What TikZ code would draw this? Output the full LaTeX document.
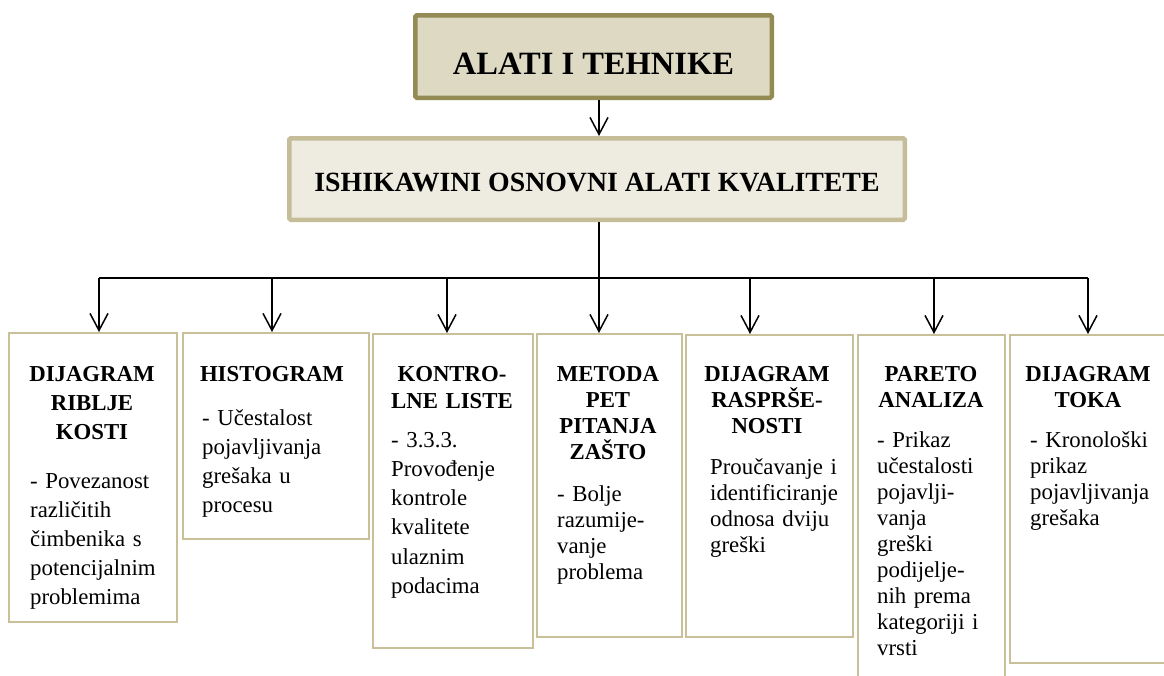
\documentclass[tikz,border=0pt]{standalone}
\usepackage{fontspec}
\setmainfont{Liberation Serif}
\usetikzlibrary{arrows.meta,calc}
\definecolor{topfill}{HTML}{DDD9C3}
\definecolor{topline}{HTML}{948A54}
\definecolor{subfill}{HTML}{EEECE1}
\definecolor{subline}{HTML}{C4BD97}
\definecolor{boxline}{HTML}{C9C09A}
\begin{document}
\begin{tikzpicture}[x=1pt,y=-1pt,
  topbox/.style={draw=topline, fill=topfill, line width=4.5pt, rounded corners=1.5pt, inner sep=0pt,
    font=\fontsize{32.5}{36}\selectfont\bfseries, text height=35pt, text depth=0pt},
  subbox/.style={draw=subline, fill=subfill, line width=4.5pt, rounded corners=1.5pt, inner sep=0pt,
    font=\fontsize{27.8}{30}\selectfont\bfseries, text height=25pt, text depth=0pt},
  toolbox/.style={draw=boxline, line width=1.5pt, inner sep=0pt, anchor=north west},
  head/.style={anchor=base, inner sep=0pt, align=center, text width=170pt,
    font=\fontsize{22.8}{#1}\selectfont\bfseries},
  body/.style={anchor=base west, inner sep=0pt, align=left, text width=170pt,
    font=\fontsize{22.8}{#1}\selectfont},
  conn/.style={line width=1.5pt},
  barline/.style={line width=2.8pt},
  arr/.style={line width=1.5pt, -{Straight Barb[length=17pt,width=18pt]}},
]
\useasboundingbox (0,0) rectangle (1164,675);
\fill[white] (0,0) rectangle (1164,675);
\clip (0,0) rectangle (1164,675);

% title boxes
\node[topbox, minimum width=356.5pt, minimum height=82.5pt] (top) at (593.5,56.5) {ALATI I TEHNIKE};
\node[subbox, minimum width=615.5pt, minimum height=81.5pt] (ist) at (597,179) {ISHIKAWINI OSNOVNI ALATI KVALITETE};

% tool boxes
\node[toolbox, minimum width=168pt, minimum height=289pt] (b1) at (8,332) {};
\node[toolbox, minimum width=186pt, minimum height=206pt] (b2) at (182,332) {};
\node[toolbox, minimum width=160pt, minimum height=314pt] (b3) at (372,333) {};
\node[toolbox, minimum width=145pt, minimum height=303pt] (b4) at (536,333) {};
\node[toolbox, minimum width=167pt, minimum height=302pt] (b5) at (685,334) {};
\node[toolbox, minimum width=147pt, minimum height=370pt] (b6) at (857,334) {};
\node[toolbox, minimum width=165pt, minimum height=328pt] (b7) at (1009,334) {};

% texts
\node[head=29] (h1) at (92,381) {DIJAGRAM\\RIBLJE\\KOSTI};
\node[body=29] (d1) at (30,488) {- Povezanost\\različitih\\čimbenika s\\potencijalnim\\problemima};

\node[head=29] (h2) at (272,381) {HISTOGRAM};
\node[body=29] (d2) at (202,425) {- Učestalost\\pojavljivanja\\grešaka u\\procesu};

\node[head=27] (h3) at (452,381) {KONTRO-\\LNE LISTE};
\node[body=29.3] (d3) at (391,447) {- 3.3.3.\\Provođenje\\kontrole\\kvalitete\\ulaznim\\podacima};

\node[head=26] (h4) at (608,381) {METODA\\PET\\PITANJA\\ZAŠTO};
\node[body=26] (d4) at (557,501) {- Bolje\\razumije-\\vanje\\problema};

\node[head=26] (h5) at (767,381) {DIJAGRAM\\RASPRŠE-\\NOSTI};
\node[body=26] (d5) at (710,474) {Proučavanje i\\identificiranje\\odnosa dviju\\greški};

\node[head=26] (h6) at (931,381) {PARETO\\ANALIZA};
\node[body=26] (d6) at (877,447) {- Prikaz\\učestalosti\\pojavlji-\\vanja\\greški\\podijelje-\\nih prema\\kategoriji i\\vrsti};

\node[head=26] (h7) at (1088,381) {DIJAGRAM\\TOKA};
\node[body=26] (d7) at (1030,447) {- Kronološki\\prikaz\\pojavljivanja\\grešaka};

% connectors
\coordinate (ax) at (599,0);
\coordinate (hub) at (599,278);
\draw[arr] (top.south -| ax) -- (ist.north -| ax);
\draw[conn] (ist.south -| ax) -- (hub);
\coordinate (t1) at (99,278);
\coordinate (t2) at (272,278);
\coordinate (t3) at (447,278);
\coordinate (t4) at (599,278);
\coordinate (t5) at (750,278);
\coordinate (t6) at (934,278);
\coordinate (t7) at (1088,278);
\draw[barline] (t1) -- (t7);
\foreach \i in {1,...,7} \draw[arr] (t\i) -- (t\i |- b\i.north);
\end{tikzpicture}
\end{document}
